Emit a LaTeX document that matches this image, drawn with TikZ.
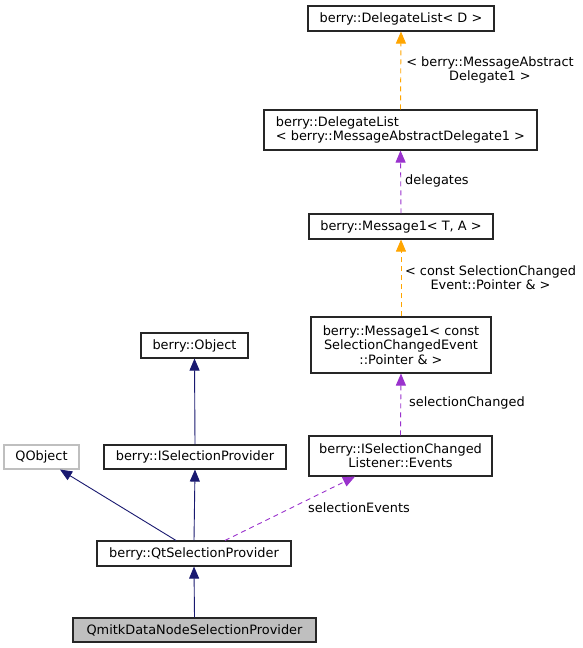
\documentclass[tikz,border=0pt]{standalone}
\usepackage{fontspec}
\setmainfont{DejaVu Sans}
\usetikzlibrary{arrows.meta,calc}
\definecolor{dorange}{HTML}{FFA500}
\definecolor{dpurple}{HTML}{9A32CD}
\definecolor{dnavy}{HTML}{191970}
\definecolor{dgray}{HTML}{BFBFBF}
\begin{document}
\begin{tikzpicture}[x=1pt,y=-1pt,
  font=\fontsize{12.9}{14.2}\selectfont,
  box/.style={draw=black!85,line width=1.1pt,inner sep=0pt,align=center,fill=white},
  lbl/.style={inner sep=0pt,align=center},
  inh/.style={draw=dnavy,line width=0.9pt,-{Triangle[length=12pt,width=10pt,fill=dnavy]}},
  usep/.style={draw=dpurple,line width=0.9pt,dash pattern=on 5pt off 4pt,-{Triangle[length=12pt,width=10pt,fill=dpurple]}},
  tmpl/.style={draw=dorange,line width=0.9pt,dash pattern=on 5pt off 4pt,-{Triangle[length=12pt,width=10pt,fill=dorange]}}]
\useasboundingbox (0,0) rectangle (583,648);
\fill[white] (0,0) rectangle (583,648);
% nodes
\node[box,minimum width=186pt,minimum height=25pt] (dlD) at (401,18.5) {berry::DelegateList< D >};
\node[box,minimum width=273pt,minimum height=40pt,align=left] (dlM) at (400.5,130) {berry::DelegateList\\< berry::MessageAbstractDelegate1 >};
\node[box,minimum width=184pt,minimum height=25pt] (mTA) at (401,226.5) {berry::Message1< T, A >};
\node[box,minimum width=180pt,minimum height=56pt] (mC) at (401,345) {berry::Message1< const\\SelectionChangedEvent\\::Pointer \& >};
\node[box,minimum width=183pt,minimum height=40pt] (isce) at (400.5,456) {berry::ISelectionChanged\\Listener::Events};
\node[box,minimum width=107pt,minimum height=25pt] (obj) at (194.5,345.5) {berry::Object};
\node[box,minimum width=182pt,minimum height=24pt] (isp) at (195,457) {berry::ISelectionProvider};
\node[box,draw=dgray,minimum width=75pt,minimum height=24pt] (qobj) at (41.5,457) {QObject};
\node[box,minimum width=194pt,minimum height=25pt] (qtsp) at (194,553.5) {berry::QtSelectionProvider};
\node[box,fill=dgray,minimum width=243pt,minimum height=24pt] (qmitk) at (194.5,630) {QmitkDataNodeSelectionProvider};
% edges
\draw[tmpl] (dlM.north) -- (dlD.south);
\node[lbl] (l1) at (490,70) {< berry::MessageAbstract\\Delegate1 >};
\draw[usep] (mTA.north) -- (dlM.south);
\node[lbl,anchor=west] (l2) at (405,181) {delegates};
\draw[tmpl] (mC.north) -- (mTA.south);
\node[lbl] (l3) at (490.5,278) {< const SelectionChanged\\Event::Pointer \& >};
\draw[usep] (isce.north) -- (mC.south);
\node[lbl,anchor=west] (l4) at (409,403) {selectionChanged};
\draw[inh] (isp.north) -- (obj.south);
\draw[inh] ([xshift=-18pt]qtsp.north) -- ([xshift=18.5pt]qobj.south);
\draw[inh] (qtsp.north) -- (isp.south);
\draw[usep] ([xshift=31pt]qtsp.north) -- ([xshift=-45.5pt]isce.south);
\node[lbl,anchor=west] (l5) at (308,508) {selectionEvents};
\draw[inh] (qmitk.north) -- (qtsp.south);
\end{tikzpicture}
\end{document}
